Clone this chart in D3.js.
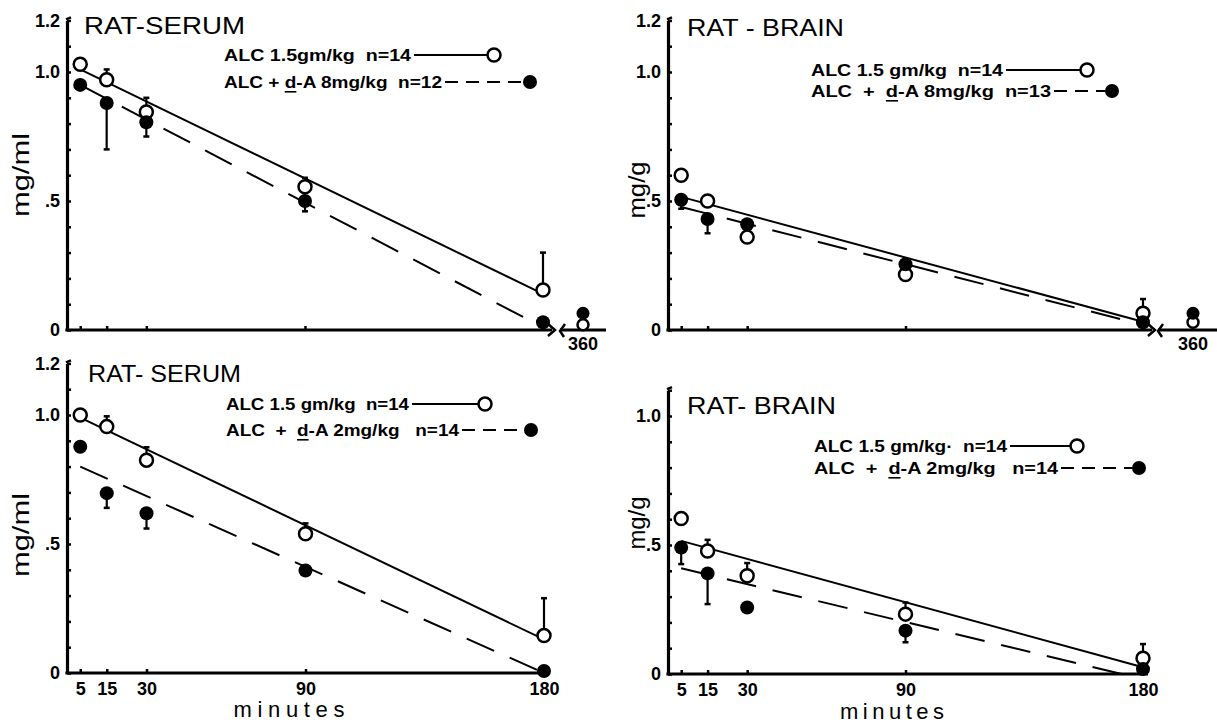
<!DOCTYPE html>
<html>
<head>
<meta charset="utf-8">
<script src="https://cdn.jsdelivr.net/npm/d3@7"></script>
<style>
  body { margin: 0; background: #fff; }
  svg text { font-family: "Liberation Sans", Arial, sans-serif; fill: #000; white-space: pre; }
</style>
</head>
<body>
<svg id="chart" width="1217" height="726"></svg>
<script>
// sampling times (minutes) and tick labels
const minutes = [5, 15, 30, 90, 180];
const xTickLabels = ["5", "15", "30", "90", "180"];
const yLabelValues = [0, 0.5, 1.0, 1.2];
const yLabelText = ["0", ".5", "1.0", "1.2"];

// top left: serum, ALC vs ALC + d-A 8 mg/kg
const serum8Alc = [1.03, 0.97, 0.845, 0.555, 0.155];
const serum8AlcHi = [null, 1.01, 0.90, 0.59, 0.30];
const serum8Amp = [0.95, 0.88, 0.805, 0.50, 0.03];
const serum8AmpLo = [null, 0.70, 0.75, 0.46, null];
const serum8At360 = [0.02, 0.065];
const serum8FitAlc = [[5, 1.01], [180, 0.14]];
const serum8FitAmp = [[5, 0.95], [180, 0.01]];

// top right: brain, 8 mg/kg
const brain8Alc = [0.60, 0.50, 0.36, 0.215, 0.065];
const brain8AlcHi = [null, null, null, null, 0.12];
const brain8Amp = [0.505, 0.43, 0.41, 0.255, 0.03];
const brain8AmpLo = [0.47, 0.375, null, null, null];
const brain8At360 = [0.03, 0.065];
const brain8FitAlc = [[5, 0.516], [180, 0.032]];
const brain8FitAmp = [[5, 0.477], [180, 0.02]];

// bottom left: serum, 2 mg/kg
const serum2Alc = [1.0, 0.955, 0.825, 0.54, 0.145];
const serum2AlcHi = [null, 0.995, 0.875, 0.58, 0.29];
const serum2Amp = [0.877, 0.697, 0.619, 0.397, 0.008];
const serum2AmpLo = [null, 0.64, 0.56, null, null];
const serum2FitAlc = [[5, 0.99], [180, 0.13]];
const serum2FitAmp = [[5, 0.80], [180, 0.0]];

// bottom right: brain, 2 mg/kg
const brain2Alc = [0.603, 0.477, 0.381, 0.232, 0.061];
const brain2AlcHi = [null, 0.52, 0.43, 0.277, 0.116];
const brain2Amp = [0.49, 0.39, 0.258, 0.168, 0.019];
const brain2AmpLo = [0.426, 0.271, null, 0.123, null];
const brain2FitAlc = [[5, 0.516], [180, 0.026]];
const brain2FitAmp = [[5, 0.41], [172, 0.0]];

const titles = ["RAT-SERUM", "RAT - BRAIN", "RAT- SERUM", "RAT- BRAIN"];
const yTitles = ["mg/ml", "mg/g", "mg/ml", "mg/g"];
const legendAlc = ["ALC 1.5gm/kg  n=14", "ALC 1.5 gm/kg  n=14", "ALC 1.5 gm/kg  n=14", "ALC 1.5 gm/kg·  n=14"];
const legendAmp = ["ALC + d-A 8mg/kg  n=12", "ALC  +  d-A 8mg/kg  n=13", "ALC  +  d-A 2mg/kg   n=14", "ALC  +  d-A 2mg/kg   n=14"];

const svg = d3.select('#chart');

// layout of each panel (pixels)
const panels = [
  { alc: serum8Alc, alcHi: serum8AlcHi, amp: serum8Amp, ampLo: serum8AmpLo, late: serum8At360,
    fitAlc: serum8FitAlc, fitAmp: serum8FitAmp,
    x0: 67, x180: 543, y0: 330, yMax: 1.2,
    title: { x: 84, y: 25, w: 161 }, ylab: { x: 20, y: 175, w: 84 },
    leg: { x: 224, y1: 55, y2: 82, w1: 187, w2: 218, c1: 494, c2: 530 },
    tail: [560, 606] },
  { alc: brain8Alc, alcHi: brain8AlcHi, amp: brain8Amp, ampLo: brain8AmpLo, late: brain8At360,
    fitAlc: brain8FitAlc, fitAmp: brain8FitAmp,
    x0: 668, x180: 1143, y0: 330, yMax: 1.2,
    title: { x: 687, y: 27, w: 157 }, ylab: { x: 636, y: 190, w: 57 },
    leg: { x: 811, y1: 70, y2: 91, w1: 192, w2: 240, c1: 1087, c2: 1112 },
    tail: [1158, 1228] },
  { alc: serum2Alc, alcHi: serum2AlcHi, amp: serum2Amp, ampLo: serum2AmpLo,
    fitAlc: serum2FitAlc, fitAmp: serum2FitAmp,
    x0: 67, x180: 544, y0: 673, yMax: 1.2,
    title: { x: 88, y: 373, w: 153 }, ylab: { x: 20, y: 535, w: 84 },
    leg: { x: 226, y1: 404, y2: 430, w1: 183, w2: 233, c1: 485, c2: 531 },
    xLabels: true, minutes: { x: 289, y: 709, w: 111 } },
  { alc: brain2Alc, alcHi: brain2AlcHi, amp: brain2Amp, ampLo: brain2AmpLo,
    fitAlc: brain2FitAlc, fitAmp: brain2FitAmp,
    x0: 668, x180: 1143, y0: 674, yMax: 1.1,
    title: { x: 687, y: 405, w: 149 }, ylab: { x: 636, y: 523, w: 53 },
    leg: { x: 814, y1: 446, y2: 468, w1: 193, w2: 244, c1: 1077, c2: 1139 },
    xLabels: true, minutes: { x: 892, y: 711, w: 104 } }
];

const UNIT = 258;   // pixels per 1.0 mg
const R = 6.5;      // marker radius
const TICK_FONT = 18;

function drawPanel(P, i) {
  const g = svg.append('g');
  const x = d3.scaleLinear().domain([0, 180]).range([P.x0, P.x180]);
  const y = d3.scaleLinear().domain([0, P.yMax]).range([P.y0, P.y0 - P.yMax * UNIT]);

  // y axis: minor ticks every .1, inward
  const yTicks = d3.range(0, Math.round(P.yMax * 10) + 1).map(k => k / 10);
  const yAxis = d3.axisLeft(y)
    .tickValues(yTicks)
    .tickSize(-4)
    .tickSizeOuter(0)
    .tickPadding(7)
    .tickFormat(d => {
      const j = yLabelValues.findIndex(v => Math.abs(v - d) < 1e-6);
      return j >= 0 ? yLabelText[j] : '';
    });
  const ya = g.append('g').attr('transform', `translate(${P.x0},0)`).call(yAxis);
  ya.select('.domain').attr('stroke-width', 3.2);
  ya.selectAll('.tick line').attr('stroke-width', 2.5);
  ya.selectAll('.tick text').style('font-size', TICK_FONT + 'px').style('font-weight', 'bold').attr('fill', '#000');
  // little hook at top of the axis
  g.append('line')
    .attr('x1', P.x0 - 1).attr('x2', P.x0 + 4)
    .attr('y1', y(P.yMax) - 1).attr('y2', y(P.yMax) - 3)
    .attr('stroke', '#000').attr('stroke-width', 2.5);

  // x axis
  const xAxis = d3.axisBottom(x)
    .tickValues(minutes)
    .tickSize(-4)
    .tickSizeOuter(0)
    .tickPadding(9)
    .tickFormat((d, k) => P.xLabels ? xTickLabels[k] : '');
  const xa = g.append('g').attr('transform', `translate(0,${P.y0})`).call(xAxis);
  xa.select('.domain').remove();
  xa.selectAll('.tick line').attr('stroke-width', 2.5);
  xa.selectAll('.tick text').style('font-size', TICK_FONT + 'px').style('font-weight', 'bold').attr('fill', '#000');

  const axisEnd = P.tail ? x(180) + 9 : x(180) + 5;
  g.append('line')
    .attr('x1', P.x0 - 1.6).attr('x2', axisEnd)
    .attr('y1', P.y0).attr('y2', P.y0)
    .attr('stroke', '#000').attr('stroke-width', 3.2);

  // broken axis out to 360 min
  if (P.tail) {
    const xt = d3.scaleLinear().domain([340, 380]).range(P.tail);
    g.append('path')
      .attr('d', `M${axisEnd - 4},${P.y0 - 6}L${axisEnd + 3},${P.y0}L${axisEnd - 4},${P.y0 + 6}`)
      .attr('fill', 'none').attr('stroke', '#000').attr('stroke-width', 2.5);
    g.append('path')
      .attr('d', `M${P.tail[0] + 5},${P.y0 - 6}L${P.tail[0]},${P.y0 + 1}L${P.tail[0] + 4},${P.y0 + 7}`)
      .attr('fill', 'none').attr('stroke', '#000').attr('stroke-width', 2.5);
    g.append('line')
      .attr('x1', P.tail[0]).attr('x2', P.tail[1])
      .attr('y1', P.y0).attr('y2', P.y0)
      .attr('stroke', '#000').attr('stroke-width', 3.2);
    g.append('text')
      .attr('x', xt(360)).attr('y', P.y0 + 14)
      .attr('text-anchor', 'middle').attr('dominant-baseline', 'central')
      .attr('font-size', TICK_FONT).attr('font-weight', 'bold')
      .text('360');
    g.append('circle')
      .attr('cx', xt(360)).attr('cy', y(P.late[0])).attr('r', R - 1)
      .attr('fill', '#fff').attr('stroke', '#000').attr('stroke-width', 2.5);
    g.append('circle')
      .attr('cx', xt(360)).attr('cy', y(P.late[1])).attr('r', R)
      .attr('fill', '#000');
  }

  // regression lines
  const line = d3.line().x(d => x(d[0])).y(d => y(d[1]));
  g.append('path').attr('d', line(P.fitAlc))
    .attr('fill', 'none').attr('stroke', '#000').attr('stroke-width', 2);
  g.append('path').attr('d', line(P.fitAmp))
    .attr('fill', 'none').attr('stroke', '#000').attr('stroke-width', 2)
    .attr('stroke-dasharray', '30,17');

  // error bars (up for ALC, down for ALC + d-A)
  const bars = [];
  minutes.forEach((m, k) => {
    if (P.alcHi[k] != null) bars.push([m, P.alc[k], P.alcHi[k]]);
    if (P.ampLo[k] != null) bars.push([m, P.amp[k], P.ampLo[k]]);
  });
  g.selectAll('.err').data(bars).join('line')
    .attr('x1', d => x(d[0])).attr('x2', d => x(d[0]))
    .attr('y1', d => y(d[1])).attr('y2', d => y(d[2]))
    .attr('stroke', '#000').attr('stroke-width', 2.2);
  g.selectAll('.cap').data(bars).join('line')
    .attr('x1', d => x(d[0]) - 3).attr('x2', d => x(d[0]) + 3)
    .attr('y1', d => y(d[2])).attr('y2', d => y(d[2]))
    .attr('stroke', '#000').attr('stroke-width', 2.5);

  // markers
  g.selectAll('.open').data(minutes).join('circle')
    .attr('cx', d => x(d)).attr('cy', (d, k) => y(P.alc[k])).attr('r', R)
    .attr('fill', '#fff').attr('stroke', '#000').attr('stroke-width', 2.5);
  g.selectAll('.filled').data(minutes).join('circle')
    .attr('cx', d => x(d)).attr('cy', (d, k) => y(P.amp[k])).attr('r', R + 0.5)
    .attr('fill', '#000');

  // title and y label
  g.append('text')
    .attr('x', P.title.x).attr('y', P.title.y)
    .attr('dominant-baseline', 'central')
    .attr('font-size', 24)
    .attr('textLength', P.title.w).attr('lengthAdjust', 'spacingAndGlyphs')
    .text(titles[i]);
  g.append('text')
    .attr('transform', `translate(${P.ylab.x},${P.ylab.y}) rotate(-90)`)
    .attr('text-anchor', 'middle').attr('dominant-baseline', 'central')
    .attr('font-size', 24)
    .attr('textLength', P.ylab.w).attr('lengthAdjust', 'spacingAndGlyphs')
    .text(yTitles[i]);

  if (P.minutes) {
    g.append('text')
      .attr('x', P.minutes.x - P.minutes.w / 2).attr('y', P.minutes.y)
      .attr('dominant-baseline', 'central')
      .attr('font-size', 22)
      .attr('textLength', P.minutes.w).attr('lengthAdjust', 'spacing')
      .text('minutes');
  }

  // legend
  const L = P.leg;
  g.append('text')
    .attr('x', L.x).attr('y', L.y1).attr('dominant-baseline', 'central')
    .attr('font-size', 16).attr('font-weight', 'bold')
    .attr('textLength', L.w1).attr('lengthAdjust', 'spacingAndGlyphs')
    .text(legendAlc[i]);
  const t2 = g.append('text')
    .attr('x', L.x).attr('y', L.y2).attr('dominant-baseline', 'central')
    .attr('font-size', 16).attr('font-weight', 'bold')
    .attr('textLength', L.w2).attr('lengthAdjust', 'spacingAndGlyphs');
  const s = legendAmp[i];
  const cut = s.indexOf('d-A');
  t2.append('tspan').text(s.slice(0, cut));
  t2.append('tspan').attr('text-decoration', 'underline').text('d');
  t2.append('tspan').text(s.slice(cut + 1));

  g.append('line')
    .attr('x1', L.x + L.w1 + 3).attr('x2', L.c1 - R)
    .attr('y1', L.y1).attr('y2', L.y1)
    .attr('stroke', '#000').attr('stroke-width', 2);
  g.append('circle').attr('cx', L.c1).attr('cy', L.y1).attr('r', R)
    .attr('fill', '#fff').attr('stroke', '#000').attr('stroke-width', 2.5);
  g.append('line')
    .attr('x1', L.x + L.w2 + 3).attr('x2', L.c2 - R)
    .attr('y1', L.y2).attr('y2', L.y2)
    .attr('stroke', '#000').attr('stroke-width', 2)
    .attr('stroke-dasharray', '13,8');
  g.append('circle').attr('cx', L.c2).attr('cy', L.y2).attr('r', R + 0.5)
    .attr('fill', '#000');
}

panels.forEach(drawPanel);
</script>
</body>
</html>
